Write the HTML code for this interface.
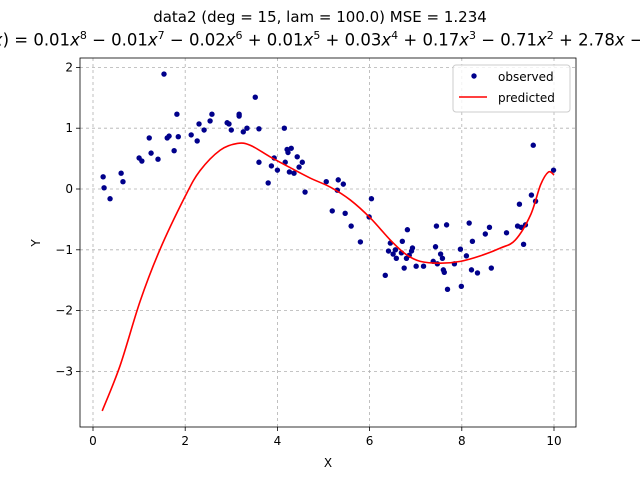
<!DOCTYPE html>
<html><head><meta charset="utf-8"><style>
body{margin:0;background:#fff;font-family:"DejaVu Sans","Liberation Sans",sans-serif}
#wrap{position:relative;width:640px;height:480px;overflow:hidden}
.t{position:absolute;left:320px;transform:translateX(-50%);white-space:nowrap;font-size:15px;color:#000}
.t i{font-family:"DejaVu Sans",sans-serif;font-style:italic}
sup{font-size:11px}
</style></head><body>
<div id="wrap">
<div class="t" style="top:8px">data2  (deg = 15, lam = 100.0) MSE = 1.234</div>
<div class="t" style="top:29px;font-size:16.5px"><i>f</i>(<i>x</i>) = 0.01<i>x</i><sup>8</sup> − 0.01<i>x</i><sup>7</sup> − 0.02<i>x</i><sup>6</sup> + 0.01<i>x</i><sup>5</sup> + 0.03<i>x</i><sup>4</sup> + 0.17<i>x</i><sup>3</sup> − 0.71<i>x</i><sup>2</sup> + 2.78<i>x</i> − 4</div>
<svg id="s" width="640" height="480" style="position:absolute;left:0;top:0" xmlns="http://www.w3.org/2000/svg"></svg>
</div>
<script>
const obsX=[0.22,0.24,0.37,0.61,0.65,1.00,1.06,1.22,1.26,1.41,1.54,1.61,1.65,1.76,1.82,1.85,2.13,2.26,2.30,2.41,2.54,2.58,2.91,2.95,3.00,3.17,3.17,3.26,3.34,3.52,3.60,3.60,3.80,3.87,3.93,4.00,4.15,4.17,4.21,4.23,4.26,4.30,4.36,4.43,4.47,4.54,4.60,5.06,5.19,5.30,5.32,5.43,5.47,5.60,5.80,5.99,6.04,6.34,6.41,6.45,6.51,6.56,6.58,6.69,6.71,6.75,6.80,6.82,6.86,6.91,6.93,7.01,7.17,7.38,7.43,7.45,7.47,7.54,7.58,7.60,7.62,7.67,7.69,7.84,7.97,7.99,8.10,8.16,8.21,8.23,8.34,8.51,8.60,8.64,8.97,9.21,9.25,9.29,9.34,9.38,9.51,9.55,9.60,9.99];
const obsY=[0.20,0.02,-0.16,0.26,0.12,0.51,0.46,0.84,0.59,0.49,1.89,0.84,0.87,0.63,1.23,0.86,0.89,0.79,1.07,0.97,1.12,1.23,1.09,1.07,0.97,1.20,1.23,0.94,1.00,1.51,0.99,0.44,0.10,0.38,0.51,0.31,1.00,0.44,0.65,0.60,0.28,0.67,0.26,0.53,0.36,0.44,-0.05,0.12,-0.36,-0.02,0.15,0.08,-0.40,-0.61,-0.87,-0.46,-0.16,-1.42,-1.02,-0.89,-1.07,-1.00,-1.14,-1.05,-0.86,-1.30,-1.14,-0.67,-1.09,-1.02,-0.97,-1.27,-1.27,-1.19,-0.95,-0.61,-1.23,-1.07,-1.14,-1.33,-1.37,-0.59,-1.65,-1.23,-0.99,-1.60,-1.10,-0.56,-1.33,-0.86,-1.38,-0.74,-0.63,-1.30,-0.72,-0.61,-0.25,-0.63,-0.91,-0.59,-0.10,0.72,-0.20,0.31];
const predX=[0.2,0.59,1.02,1.45,2.0,2.32,2.76,3.13,3.41,3.84,4.28,4.71,5.15,5.58,6.02,6.45,6.78,7.1,7.54,7.97,8.4,8.84,9.16,9.49,9.71,9.88,10.0];
const predY=[-3.65,-2.9,-1.85,-1.0,-0.12,0.3,0.64,0.75,0.72,0.53,0.35,0.18,0.03,-0.18,-0.48,-0.84,-1.07,-1.19,-1.22,-1.19,-1.1,-0.97,-0.84,-0.43,0.07,0.28,0.23];
const xTicks=[0,2,4,6,8,10], yTicks=[2,1,0,-1,-2,-3];
const L=80,R=576,T=58,B=427;
const sx=v=>93+v*46.1, sy=v=>189-v*60.8;
const s=document.getElementById('s'),NS='http://www.w3.org/2000/svg';
function mk(t,a,p){const e=document.createElementNS(NS,t);for(const k in a)e.setAttribute(k,a[k]);(p||s).appendChild(e);return e;}
const grid=mk('g',{});


xTicks.forEach(v=>{const x=sx(v);
 mk('line',{x1:x,x2:x,y1:T,y2:B,stroke:'#b0b0b0','stroke-dasharray':'3,3','stroke-width':0.8},grid);
 mk('line',{x1:x,x2:x,y1:B,y2:B+4,stroke:'#000','stroke-width':0.8});
 const t=mk('text',{x:x,y:B+18,'text-anchor':'middle','font-size':12});t.textContent=v;
 
 });
yTicks.forEach(v=>{const y=sy(v);
 mk('line',{x1:L,x2:R,y1:y,y2:y,stroke:'#b0b0b0','stroke-dasharray':'3,3','stroke-width':0.8},grid);
 mk('line',{x1:L-4,x2:L,y1:y,y2:y,stroke:'#000','stroke-width':0.8});
 const t=mk('text',{x:L-7,y:y+4,'text-anchor':'end','font-size':12});t.textContent=v<0?'−'+(-v):v;
 
 });
const pts=mk('g',{fill:'#00008b'});


obsX.forEach((x,i)=>{const c=mk('circle',{cx:sx(x),cy:sy(obsY[i]),r:2.7},pts);
 
 });
const P=predX.map((x,i)=>[sx(x),sy(predY[i])]);
let d='M'+P[0][0]+','+P[0][1];
for(let i=0;i<P.length-1;i++){const p0=P[Math.max(i-1,0)],p1=P[i],p2=P[i+1],p3=P[Math.min(i+2,P.length-1)];
 d+=' C'+(p1[0]+(p2[0]-p0[0])/6)+','+(p1[1]+(p2[1]-p0[1])/6)+' '+(p2[0]-(p3[0]-p1[0])/6)+','+(p2[1]-(p3[1]-p1[1])/6)+' '+p2[0]+','+p2[1];}
const line=mk('path',{d:d,fill:'none',stroke:'red','stroke-width':1.6});


const fr=mk('rect',{x:L,y:T,width:R-L,height:B-T,fill:'none',stroke:'#000','stroke-width':0.8});


const xl=mk('text',{x:328,y:467,'text-anchor':'middle','font-size':12});xl.textContent='X';


const yl=mk('text',{x:40,y:243,'text-anchor':'middle','font-size':12,transform:'rotate(-90 40 243)'});yl.textContent='Y';


const lg=mk('g',{});


mk('rect',{x:453,y:65,width:117,height:47,rx:3,fill:'#fff','fill-opacity':0.8,stroke:'#ccc'},lg);
mk('circle',{cx:474,cy:76,r:2.7,fill:'#00008b'},lg);
const l1=mk('text',{x:498,y:81,'font-size':12},lg);l1.textContent='observed';


mk('line',{x1:459,x2:487,y1:97,y2:97,stroke:'red','stroke-width':1.6},lg);
const l2=mk('text',{x:498,y:102,'font-size':12},lg);l2.textContent='predicted';


</script>
</body></html>
